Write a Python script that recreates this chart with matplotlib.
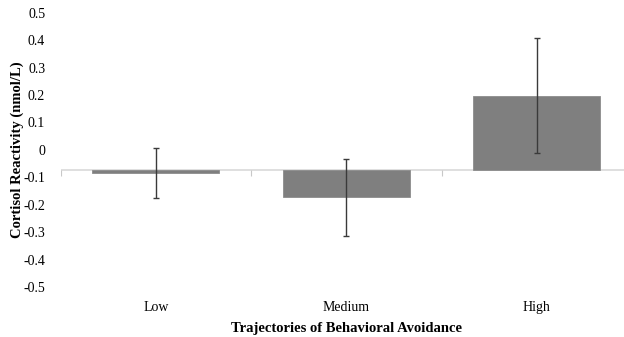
import numpy as np
import matplotlib
matplotlib.use("Agg")
import matplotlib.pyplot as plt

plt.rcParams['font.family'] = ['Liberation Serif', 'DejaVu Serif']

# valeurs (unites des etiquettes de l'axe)
categories = ["Low", "Medium", "High"]
valeurs = [-0.085, -0.173, 0.198]
erreurs = [0.091, 0.141, 0.211]
ligne_base = -0.074   # la ligne horizontale coupe l'axe ici
graduations = [0.5, 0.4, 0.3, 0.2, 0.1, 0, -0.1, -0.2, -0.3, -0.4, -0.5]
etiquettes_y = ["0.5", "0.4", "0.3", "0.2", "0.1", "0", "-0.1", "-0.2", "-0.3", "-0.4", "-0.5"]

fig = plt.figure(figsize=(6.24, 3.37), dpi=100)
ax = fig.add_axes([60.5 / 624, 50 / 337, 571.5 / 624, 274.3 / 337])

x = np.arange(len(categories))
hauteurs = np.array(valeurs) - ligne_base
ax.bar(x, hauteurs, bottom=ligne_base, width=0.667, color='#7f7f7f',
       edgecolor='#8c8c8c', linewidth=0.6, zorder=2)
ax.errorbar(x, valeurs, yerr=erreurs, fmt='none', ecolor='#3a3a3a',
            elinewidth=1, capsize=2.5, capthick=1, zorder=3)

# ligne de base + petites graduations entre categories
ax.axhline(ligne_base, color='#d9d9d9', lw=1.2, zorder=1)
bornes = np.arange(len(categories) + 1) - 0.5
ax.plot(bornes, [ligne_base] * len(bornes), ls='none', marker=3,
        markersize=4, markeredgewidth=0.8, color='#c8c8c8', zorder=1)

ax.set_xlim(-0.5, 2.5)
ax.set_ylim(-0.5, 0.5)
ax.set_yticks(graduations)
ax.set_yticklabels(etiquettes_y, fontsize=10)
ax.tick_params(axis='y', length=0, pad=11)

ax.set_xticks(x)
ax.set_xticklabels(categories, fontsize=10)
ax.tick_params(axis='x', length=0, pad=10)

for s in ax.spines.values():
    s.set_visible(False)

ax.set_ylabel("Cortisol Reactivity (nmol/L)", fontsize=10.5, fontweight='bold')
ax.yaxis.set_label_coords(-36 / 571.5, 0.5)
ax.set_xlabel("Trajectories of Behavioral Avoidance", fontsize=10.5, fontweight='bold', labelpad=6)

fig.savefig("out.png", dpi=100)
